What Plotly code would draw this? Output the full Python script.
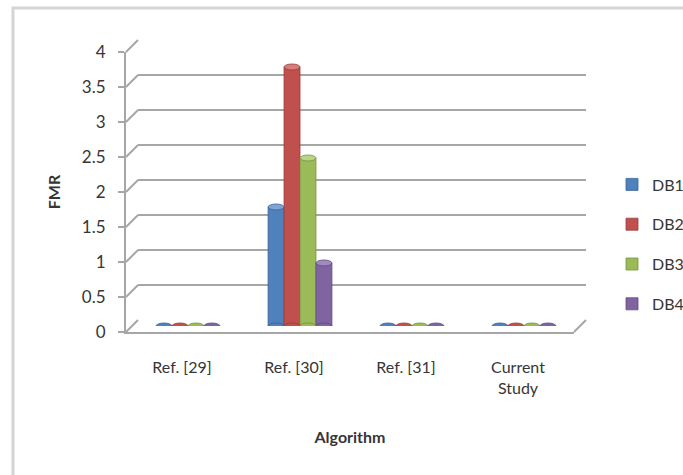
import plotly.graph_objects as go

# ---- data -------------------------------------------------------------
categories = ["Ref. [29]", "Ref. [30]", "Ref. [31]", "Current<br>Study"]
series_names = ["DB1", "DB2", "DB3", "DB4"]
db1 = [0, 1.7, 0, 0]
db2 = [0, 3.7, 0, 0]
db3 = [0, 2.4, 0, 0]
db4 = [0, 0.9, 0, 0]
y_ticks = [0, 0.5, 1, 1.5, 2, 2.5, 3, 3.5, 4]

series_values = [db1, db2, db3, db4]
colors = ["#4F81BD", "#C0504D", "#9BBB59", "#8064A2"]
cap_colors = ["#7FA4D4", "#D97C79", "#B9D487", "#A18AC0"]
edge_colors = ["#3A6396", "#983C3A", "#77923F", "#5E4A7D"]

# ---- geometry of the pseudo-3D box (pixels) ---------------------------
W, H = 683, 475
FX0, FX1 = 126, 574      # front plane, left/right
FY_TOP, FY_BOT = 52, 332 # front plane, top/bottom
DEPTH = 12               # shift of back wall (right and up)
MID = DEPTH / 2          # columns stand halfway in depth
Y_MAX = 4
GRID = "#a6a6a6"
TEXT = "#363636"
FONT = "Lato, 'Open Sans', sans-serif"

GROUP_W = 0.57           # fraction of a category taken by a group
BAR_W = GROUP_W / len(series_names)


def xdom(d):
    return [(FX0 + d) / W, (FX1 + d) / W]


def ydom(d):
    return [1 - (FY_BOT - d) / H, 1 - (FY_TOP - d) / H]


def px_y(v, d):
    """pixel row of value v on the plane shifted by d"""
    return FY_BOT - d - v / Y_MAX * (FY_BOT - FY_TOP)


def paper(x, y):
    return x / W, 1 - y / H


fig = go.Figure()

# placeholder traces so the back and front subplots exist
fig.add_trace(go.Scatter(x=[], y=[], xaxis="x", yaxis="y", showlegend=False))
fig.add_trace(go.Scatter(x=[], y=[], xaxis="x2", yaxis="y2", showlegend=False))

xs = list(range(len(categories)))
for j, name in enumerate(series_names):
    fig.add_trace(go.Bar(
        x=xs, y=series_values[j], name=name,
        xaxis="x3", yaxis="y3",
        marker=dict(color=colors[j], line=dict(color=edge_colors[j], width=0.8)),
        legendgroup=name,
    ))

shapes = []

# side-wall diagonals joining the front axis to each back gridline
for v in y_ticks:
    x0, y0 = paper(FX0, px_y(v, 0))
    x1, y1 = paper(FX0 + DEPTH, px_y(v, DEPTH))
    shapes.append(dict(type="line", xref="paper", yref="paper",
                       x0=x0, y0=y0, x1=x1, y1=y1,
                       line=dict(color=GRID, width=2), layer="below"))

# right edge of the floor
x0, y0 = paper(FX1, px_y(0, 0))
x1, y1 = paper(FX1 + DEPTH, px_y(0, DEPTH))
shapes.append(dict(type="line", xref="paper", yref="paper",
                   x0=x0, y0=y0, x1=x1, y1=y1,
                   line=dict(color=GRID, width=2), layer="below"))

# elliptical ends of the cylinders
for j, vals in enumerate(series_values):
    for i, v in enumerate(vals):
        c = i - GROUP_W / 2 + (j + 0.5) * BAR_W
        if v > 0:
            shapes.append(dict(type="circle", xref="x3", yref="y3",
                               ysizemode="pixel", yanchor=0,
                               x0=c - BAR_W / 2, x1=c + BAR_W / 2, y0=-3, y1=3,
                               fillcolor=colors[j],
                               line=dict(color=edge_colors[j], width=0.8)))
        shapes.append(dict(type="circle", xref="x3", yref="y3",
                           ysizemode="pixel", yanchor=v,
                           x0=c - BAR_W / 2, x1=c + BAR_W / 2, y0=-3, y1=3,
                           fillcolor=cap_colors[j] if v > 0 else colors[j],
                           line=dict(color=edge_colors[j], width=0.8)))

# light frame round the chart
shapes.append(dict(type="path", xref="paper", yref="paper",
                   path="M {:.4f},{:.4f} L {:.4f},{:.4f} L {:.4f},{:.4f}".format(
                       13 / W, 0.0, 13 / W, 1 - 8 / H, 1.0, 1 - 8 / H),
                   line=dict(color="#d4d4d4", width=3)))

hidden = dict(showgrid=False, zeroline=False, showline=False,
              showticklabels=False, ticks="", automargin=False)

fig.update_layout(
    width=W, height=H,
    margin=dict(l=0, r=0, t=0, b=0, pad=0, autoexpand=False),
    paper_bgcolor="white",
    plot_bgcolor="rgba(0,0,0,0)",
    font=dict(family=FONT, size=16, color=TEXT),
    barmode="group", bargap=1 - GROUP_W, bargroupgap=0,
    # back wall: horizontal gridlines
    xaxis=dict(domain=xdom(DEPTH), range=[-0.5, 3.5], anchor="y", **hidden),
    yaxis=dict(domain=ydom(DEPTH), range=[0, Y_MAX], anchor="x",
               showgrid=True, gridcolor=GRID, gridwidth=2, tickvals=y_ticks,
               zeroline=False, showline=False, showticklabels=False, ticks="",
               automargin=False),
    # front plane: axis lines, ticks and labels
    xaxis2=dict(domain=xdom(0), range=[-0.5, 3.5], anchor="y2",
                showgrid=False, zeroline=False, automargin=False,
                showline=True, linecolor=GRID, linewidth=2,
                tickmode="array", tickvals=xs, ticktext=categories, ticks="",
                ticklabelstandoff=20,
                title=dict(text="Algorithm", standoff=36,
                           font=dict(size=16, weight="bold"))),
    yaxis2=dict(domain=ydom(0), range=[0, Y_MAX], anchor="x2",
                showgrid=False, zeroline=False, automargin=False,
                showline=True, linecolor=GRID, linewidth=2,
                tickmode="array", tickvals=y_ticks,
                ticktext=[f"{t:g}" for t in y_ticks],
                ticks="outside", ticklen=6, tickwidth=2, tickcolor=GRID,
                ticklabelstandoff=9, tickfont=dict(size=17),
                title=dict(text="FMR", standoff=17,
                           font=dict(size=16, weight="bold"))),
    # mid depth: the columns
    xaxis3=dict(domain=xdom(MID), range=[-0.5, 3.5], anchor="y3", **hidden),
    yaxis3=dict(domain=ydom(MID), range=[0, Y_MAX], anchor="x3", **hidden),
    legend=dict(x=612 / W, xanchor="left", y=1 - 244.5 / H, yanchor="middle",
                font=dict(size=16), tracegroupgap=16, traceorder="grouped",
                bgcolor="rgba(0,0,0,0)"),
    shapes=shapes,
    showlegend=True,
)

fig.write_html("out.html")
